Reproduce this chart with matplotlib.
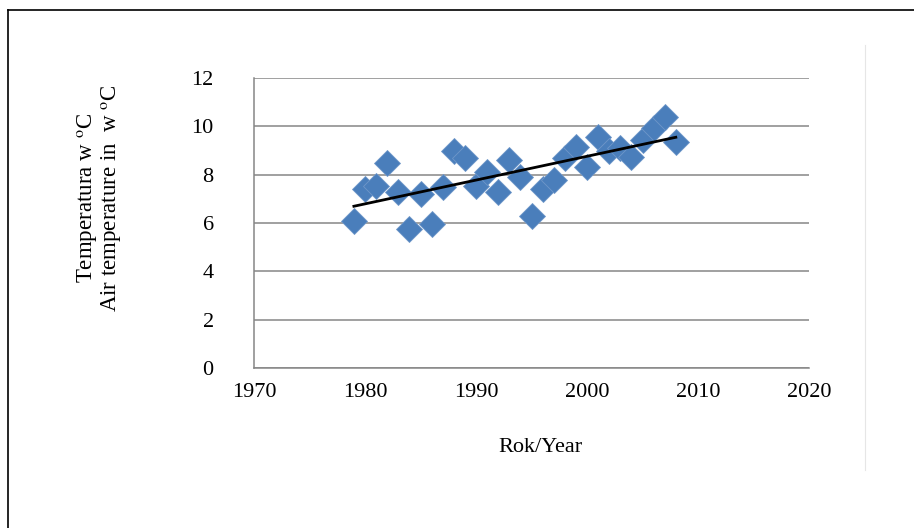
import numpy as np
import matplotlib
matplotlib.use('Agg')
import matplotlib.pyplot as plt
from matplotlib.lines import Line2D

# Data
years = [1979, 1980, 1981, 1982, 1983, 1984, 1985, 1986, 1987, 1988,
         1989, 1990, 1991, 1992, 1993, 1994, 1995, 1996, 1997, 1998,
         1999, 2000, 2001, 2002, 2003, 2004, 2005, 2006, 2007, 2008]
temps = [6.1, 7.4, 7.55, 8.5, 7.3, 5.75, 7.2, 5.95, 7.5, 9.0,
         8.7, 7.55, 8.1, 7.3, 8.6, 7.9, 6.3, 7.4, 7.8, 8.7,
         9.15, 8.3, 9.55, 9.0, 9.1, 8.75, 9.45, 9.95, 10.4, 9.35]
x_ticks = [1970, 1980, 1990, 2000, 2010, 2020]
y_ticks = [0, 2, 4, 6, 8, 10, 12]

plt.rcParams['font.family'] = ['Liberation Serif', 'DejaVu Serif']
plt.rcParams['mathtext.fontset'] = 'stix'

W, H = 914, 528
fig = plt.figure(figsize=(W / 100, H / 100), dpi=100)
ax = fig.add_axes([254 / W, 1 - 368 / H, (809 - 254) / W, (368 - 78) / H])

# Scatter points
ax.plot(years, temps, linestyle='none', marker='D', markersize=13,
        markerfacecolor='#4a7ebb', markeredgecolor='#6f97c9', markeredgewidth=0.6,
        zorder=3)

# Linear trend
coef = np.polyfit(years, temps, 1)
xt = np.array([years[0], years[-1]])
ax.plot(xt, np.polyval(coef, xt), color='black', linewidth=2.0, zorder=4)

ax.set_xlim(1970, 2020)
ax.set_ylim(0, 12)
ax.set_xticks(x_ticks)
ax.set_yticks(y_ticks)
ax.tick_params(axis='both', length=0, labelsize=16)
ax.tick_params(axis='y', pad=29)
ax.tick_params(axis='x', pad=11)
ax.yaxis.grid(True, color='#868686', linewidth=1.1)
ax.set_axisbelow(True)
for s in ['top', 'right']:
    ax.spines[s].set_visible(False)
for s in ['left', 'bottom']:
    ax.spines[s].set_color('#868686')
    ax.spines[s].set_linewidth(1.1)

fig.text(540 / W, 1 - 447 / H, 'Rok/Year', ha='center', va='center', fontsize=16)
fig.text(100 / W, 1 - 198 / H,
         'Temperatura w $^{\\mathrm{o}}$C\nAir temperature in  w $^{\\mathrm{o}}$C',
         rotation=90, ha='center', va='center', multialignment='center',
         fontsize=16.5, linespacing=0.95)

# Outer frame (top and left edges visible) and faint right divider
fig.add_artist(Line2D([8 / W, 1], [1 - 10 / H, 1 - 10 / H], color='black', linewidth=1.2))
fig.add_artist(Line2D([8 / W, 8 / W], [0, 1 - 10 / H], color='black', linewidth=1.2))
fig.add_artist(Line2D([865 / W, 865 / W], [1 - 45 / H, 1 - 470 / H], color='#e6e6e6', linewidth=0.8))

fig.savefig('out.png', dpi=100)
